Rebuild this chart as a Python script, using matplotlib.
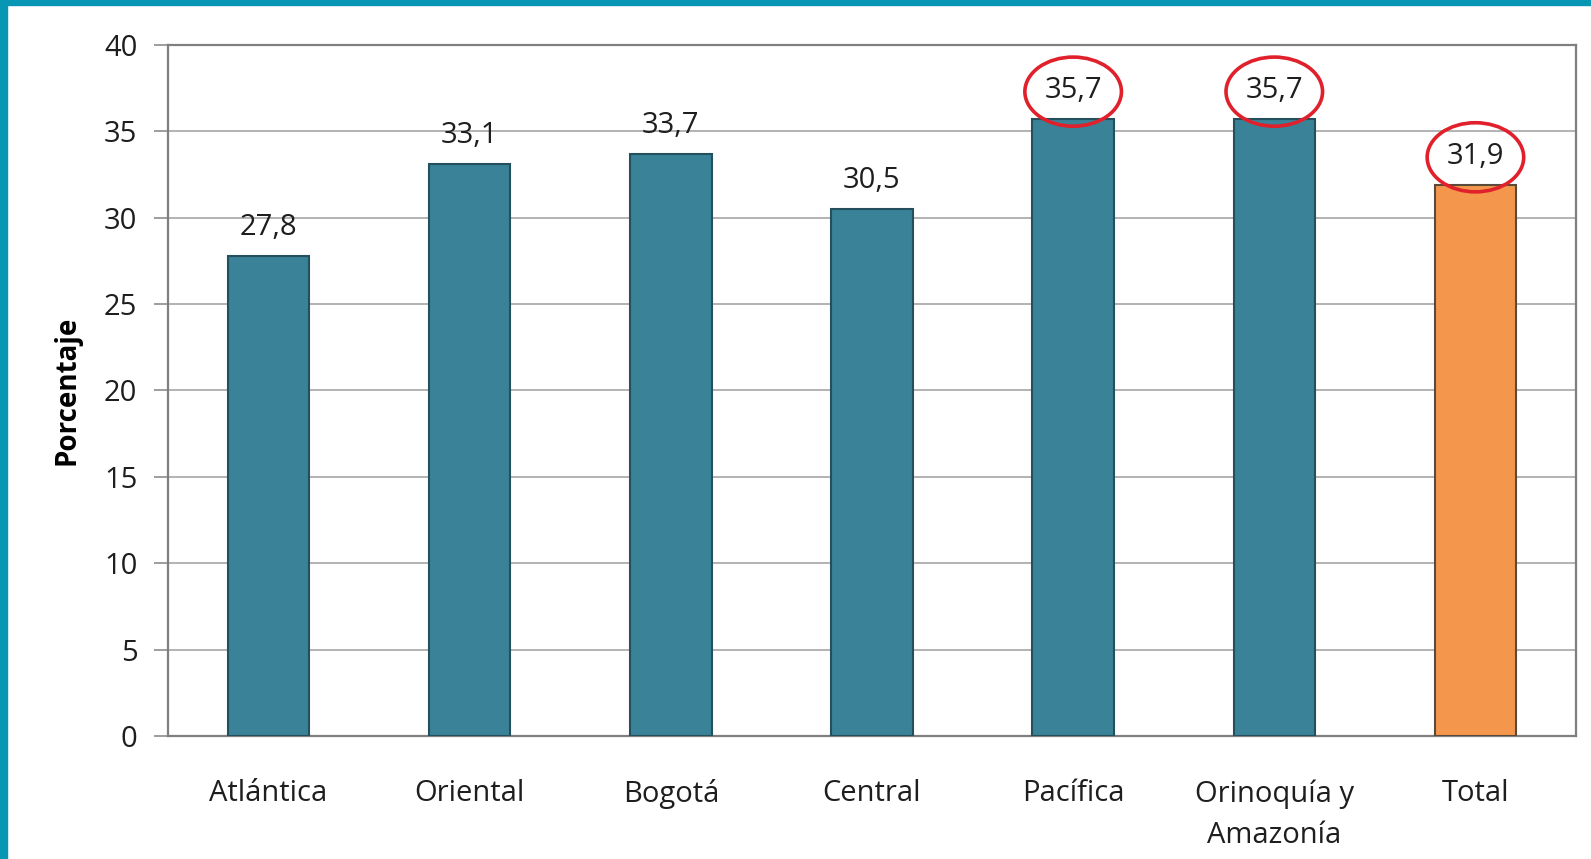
import matplotlib
matplotlib.use("Agg")
import matplotlib.pyplot as plt
from matplotlib.patches import Ellipse, Rectangle

categories = ["Atlántica", "Oriental", "Bogotá", "Central", "Pacífica", "Orinoquía y\nAmazonía", "Total"]
values = [27.8, 33.1, 33.7, 30.5, 35.7, 35.7, 31.9]
labels = ["27,8", "33,1", "33,7", "30,5", "35,7", "35,7", "31,9"]
highlighted = [4, 5, 6]
yticks = [0, 5, 10, 15, 20, 25, 30, 35, 40]

plt.rcParams['font.family'] = ['Open Sans', 'DejaVu Sans']

W, H = 1591, 859
fig = plt.figure(figsize=(W / 100, H / 100), dpi=100)
fig.patch.set_facecolor("white")

# teal frame (left and top)
teal = "#0797B5"
fig.patches.append(Rectangle((0, 0), 7 / W, 1, transform=fig.transFigure, color=teal, zorder=0))
fig.patches.append(Rectangle((0, 1 - 5 / H), 1, 5 / H, transform=fig.transFigure, color=teal, zorder=0))

ax = fig.add_axes([168 / W, 1 - 736 / H, (1576 - 168) / W, (736 - 45) / H])
x = list(range(len(categories)))
colors = ["#3A8297"] * (len(categories) - 1) + ["#F4974C"]
edges = ["#24505E"] * (len(categories) - 1) + ["#5A4A3A"]
ax.bar(x, values, width=0.405, color=colors, edgecolor=edges, linewidth=1.5, zorder=3)

txt = "#1E1E1E"
ax.set_xlim(-0.5, len(categories) - 0.5)
ax.set_ylim(0, 40)
ax.set_yticks(yticks)
ax.set_yticklabels([str(t) for t in yticks], fontsize=21, color=txt)
ax.set_xticks(x)
ax.set_xticklabels(categories, fontsize=21, color=txt, linespacing=1.55)
ax.tick_params(axis="x", length=0, pad=31)
ax.tick_params(axis="y", length=10, width=1.2, color="#8C8C8C", pad=12)
ax.yaxis.grid(True, color="#A6A6A6", linewidth=1.2, zorder=0)
for s in ax.spines.values():
    s.set_color("#7F7F7F")
    s.set_linewidth(1.6)

ax.set_ylabel("Porcentaje", fontsize=20, fontweight="bold", color="#000000", labelpad=16)

for i, (v, lab) in enumerate(zip(values, labels)):
    ax.text(i, v + 1.65, lab, ha="center", va="center", fontsize=21, color=txt, zorder=5)

for i in highlighted:
    ax.add_patch(Ellipse((i, values[i] + 1.6), 0.48, 4.0, fill=False,
                         edgecolor="#E0202A", linewidth=2.6, zorder=6, clip_on=False))

fig.savefig("out.png", dpi=100)
